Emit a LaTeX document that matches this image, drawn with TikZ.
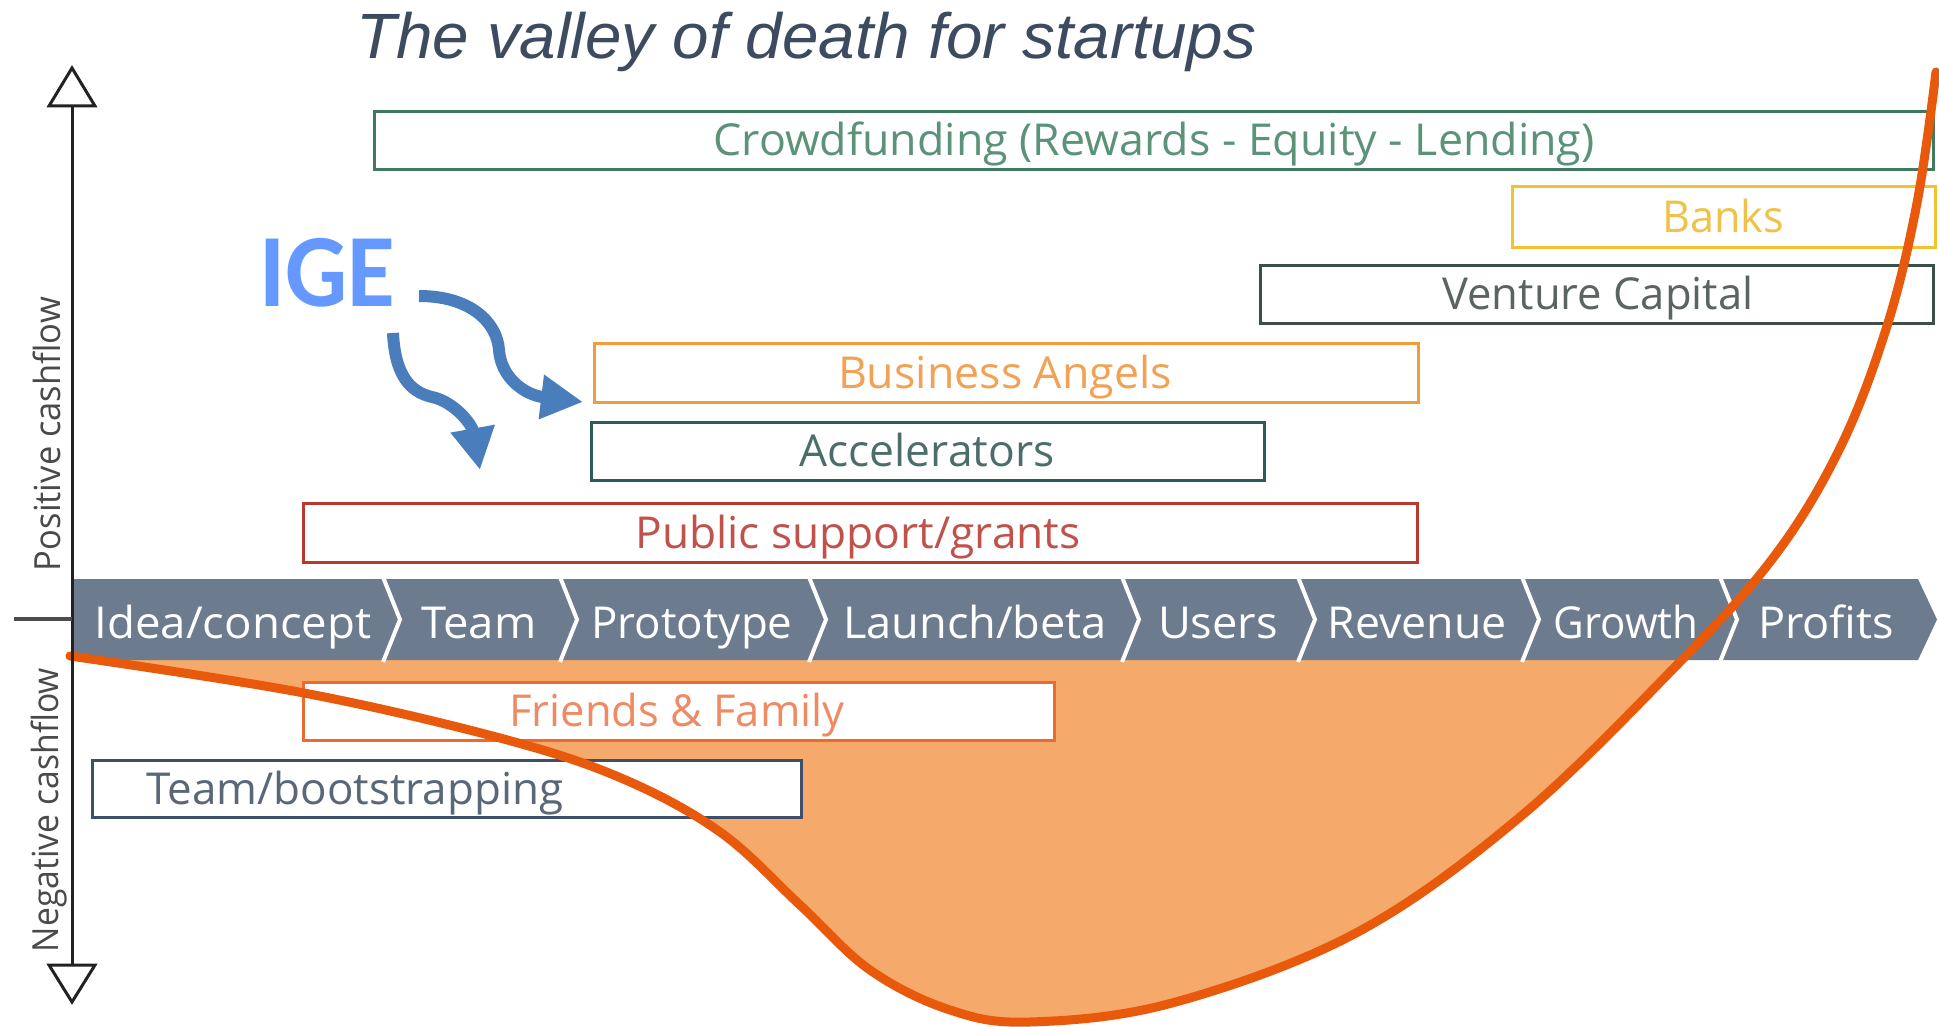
\documentclass[tikz,border=0pt]{standalone}
\usepackage{fontspec}
\usepackage{graphicx}
\setmainfont{Open Sans}
\newfontfamily\titlefont{Liberation Sans}
\newfontfamily\igefont{Carlito}
\usetikzlibrary{arrows.meta}
\definecolor{titlec}{HTML}{3C4B60}
\definecolor{crowdc}{HTML}{3E7A60}\definecolor{crowdt}{HTML}{5B9378}
\definecolor{banksc}{HTML}{F2C233}\definecolor{bankst}{HTML}{EFC34A}
\definecolor{vcc}{HTML}{3D4F4B}\definecolor{vct}{HTML}{5A6461}
\definecolor{bac}{HTML}{F29D3D}\definecolor{bat}{HTML}{F2A255}
\definecolor{accc}{HTML}{2E5B58}\definecolor{acct}{HTML}{4C6E6B}
\definecolor{pubc}{HTML}{B8382E}\definecolor{pubt}{HTML}{C1524B}
\definecolor{ffc}{HTML}{EA6A2F}\definecolor{fft}{HTML}{EF8A62}
\definecolor{tbc}{HTML}{3D5068}\definecolor{tbt}{HTML}{5A6778}
\definecolor{barc}{HTML}{6C7B8E}
\definecolor{valfill}{HTML}{F5A96B}
\definecolor{curvec}{HTML}{E8590C}
\definecolor{igec}{HTML}{6699FF}
\definecolor{arrc}{HTML}{4A7DBB}
\definecolor{axisc}{HTML}{222222}
\definecolor{axlab}{HTML}{4A4A4A}
\newsavebox\fitbox
\newcommand\fitw[2]{\sbox\fitbox{#2}\pgfmathsetmacro\fitfac{#1/\the\wd\fitbox}\scalebox{\fitfac}[1]{\usebox\fitbox}}
\begin{document}
\begin{tikzpicture}[x=1pt,y=-1pt,
  box/.style={draw=#1, line width=3pt, fill=white, inner sep=0pt},
  lbl/.style={inner sep=0pt, anchor=base, font=\fontsize{44}{50}\selectfont},
  stage/.style={inner sep=0pt, anchor=base, text=white, font=\fontsize{44}{50}\selectfont},
  axlabel/.style={inner sep=0pt, anchor=base, rotate=90, text=axlab, font=\fontsize{36}{40}\selectfont},
  igearrow/.style={draw=arrc, line width=12pt, -{Triangle[length=42pt,width=42pt]}, arrc}
]
\useasboundingbox (0,0) rectangle (1939,1027);
\fill[white] (0,0) rectangle (1939,1027);

% valley fill
\begin{scope}
\clip (0,660) rectangle (1939,1027);
\fill[valfill] plot[smooth, tension=0.6] coordinates {(70,656) (304,693) (500,738) (621,778) (720,832) (800,905) (870,970) (950,1010) (1030,1022) (1172,1003) (1356,933) (1520,817) (1673,669) (1773,558) (1840,448) (1887,326) (1917,203) (1936,72)};
\end{scope}

% stage bar
\fill[barc] (72,579) -- (1918,579) -- (1937,619.5) -- (1918,660) -- (72,660) -- cycle;
\foreach \s in {383,560,809,1122,1298,1522,1720}
  \draw[white, line width=4pt] (\s,577) -- (\s+17,619.5) -- (\s,662);
\node[stage] (st1) at (233,638) {\fitw{277}{Idea/concept}};
\node[stage] (st2) at (479,638) {\fitw{115}{Team}};
\node[stage] (st3) at (692,638) {\fitw{201}{Prototype}};
\node[stage] (st4) at (975,638) {\fitw{264}{Launch/beta}};
\node[stage] (st5) at (1218,638) {\fitw{120}{Users}};
\node[stage] (st6) at (1417,638) {\fitw{179}{Revenue}};
\node[stage] (st7) at (1626,638) {\fitw{145}{Growth}};
\node[stage] (st8) at (1826,638) {\fitw{136}{Profits}};

% funding boxes
\node[box=crowdc, minimum width=1559pt, minimum height=58pt] (crowd) at (1153.5,141) {};
\node[lbl, text=crowdt] (crowdt) at (1154,156) {\fitw{881}{Crowdfunding (Rewards - Equity - Lending)}};
\node[box=banksc, minimum width=423pt, minimum height=61pt] (banks) at (1723.5,217.5) {};
\node[lbl, text=bankst] (bankst) at (1723,233) {\fitw{122}{Banks}};
\node[box=vcc, minimum width=673pt, minimum height=57pt] (vc) at (1596.5,294.5) {};
\node[lbl, text=vct] (vct) at (1598,309) {\fitw{311}{Venture Capital}};
\node[box=bac, minimum width=824pt, minimum height=59pt] (ba) at (1006,372.5) {};
\node[lbl, text=bat] (bat) at (1005,388) {\fitw{334}{Business Angels}};
\node[box=accc, minimum width=673pt, minimum height=58pt] (acc) at (927.5,451) {};
\node[lbl, text=acct] (acct) at (927,466) {\fitw{255}{Accelerators}};
\node[box=pubc, minimum width=1114pt, minimum height=59pt] (pub) at (860,532.5) {};
\node[lbl, text=pubt] (pubt) at (858,548) {\fitw{445}{Public support/grants}};
\node[box=ffc, minimum width=751pt, minimum height=58pt] (ff) at (678.5,711) {};
\node[lbl, text=fft] (fft) at (677,726) {\fitw{335}{Friends \& Family}};
\node[box=tbc, minimum width=709pt, minimum height=57pt] (tb) at (446.5,788.5) {};
\node[lbl, text=tbt] (tbt) at (355,804) {\fitw{417}{Team/bootstrapping}};

% curve
\draw[curvec, line width=9pt, line cap=round] plot[smooth, tension=0.6] coordinates {(70,656) (304,693) (500,738) (621,778) (720,832) (800,905) (870,970) (950,1010) (1030,1022) (1172,1003) (1356,933) (1520,817) (1673,669) (1773,558) (1840,448) (1887,326) (1917,203) (1936,72)};

% axis
\draw[axisc, line width=3pt] (72,106) -- (72,965);
\draw[axisc, line width=3pt, fill=white, line join=miter] (72,68) -- (95,106) -- (49,106) -- cycle;
\draw[axisc, line width=3pt, fill=white, line join=miter] (72,1002) -- (95,965) -- (49,965) -- cycle;
\draw[black!70, line width=4pt] (14,619) -- (72,619);
\node[axlabel] (pos) at (60,434) {\fitw{274}{Positive cashflow}};
\node[axlabel] (neg) at (58,810) {\fitw{284}{Negative cashflow}};

% title
\node[inner sep=0pt, anchor=base, text=titlec, font=\titlefont\itshape\fontsize{64}{70}\selectfont] (title) at (806,59) {\fitw{900}{The valley of death for startups}};

% IGE
\node[inner sep=0pt, anchor=base, text=igec, font=\igefont\bfseries\fontsize{104}{110}\selectfont] (ige) at (327,306) {\fitw{136}{IGE}};
\coordinate (a1s) at (419,296);
\coordinate (a1e) at (583,402);
\coordinate (a2s) at (393,333);
\coordinate (a2e) at (480,470);
\draw[igearrow] (a1s) .. controls (470,296) and (497,322) .. (499,350) .. controls (501,378) and (525,395) .. (a1e);
\draw[igearrow] (a2s) .. controls (395,375) and (410,392) .. (432,397) .. controls (455,402) and (472,425) .. (a2e);
\end{tikzpicture}
\end{document}
